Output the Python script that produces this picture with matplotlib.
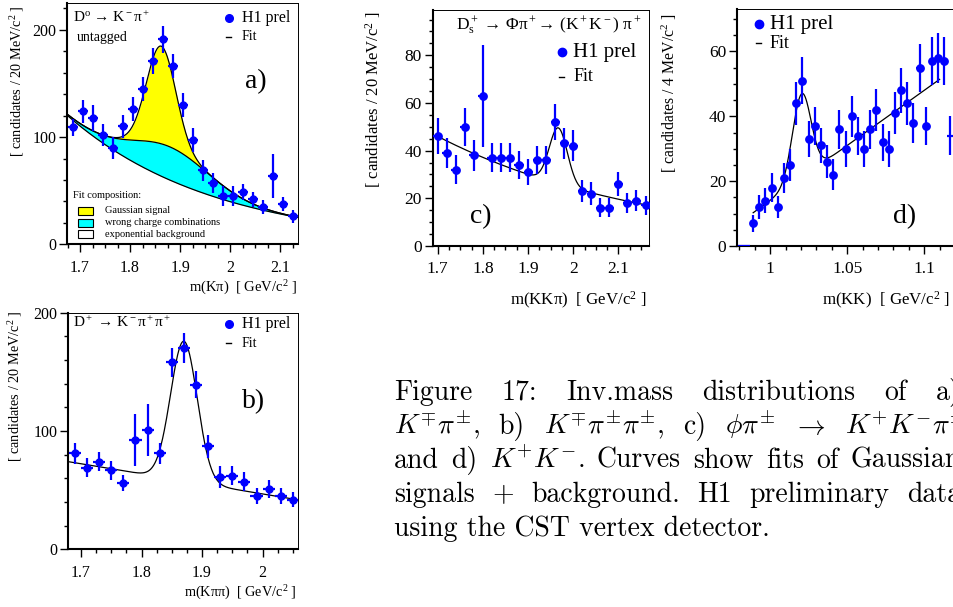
import matplotlib.pyplot as plt
import numpy as np
from matplotlib.lines import Line2D
from matplotlib.patches import Rectangle
from matplotlib.ticker import MultipleLocator, FuncFormatter

plt.rcParams['font.family'] = ['Liberation Serif', 'DejaVu Serif']
plt.rcParams['mathtext.fontset'] = 'custom'
plt.rcParams['mathtext.rm'] = 'Liberation Serif'
plt.rcParams['mathtext.it'] = 'Liberation Serif:italic'
plt.rcParams['mathtext.bf'] = 'Liberation Serif:bold'

W, H = 954, 607
BLUE = '#0000ff'

# a) D0 -> K pi, untagged
a_x = [1.685, 1.705, 1.725, 1.745, 1.765, 1.785, 1.805, 1.825, 1.845, 1.865, 1.885, 1.905,
       1.925, 1.945, 1.965, 1.985, 2.005, 2.025, 2.045, 2.065, 2.085, 2.105, 2.125]
a_y = [109, 124, 118, 102, 90, 110, 126, 145, 171, 191, 166, 130, 97, 69, 57, 45, 45, 49, 42, 35, 64, 38, 26]
a_err = [8, 11, 12, 10, 10, 11, 11, 11, 12.5, 12.5, 11, 11, 11, 10, 9.5, 9.5, 9, 7.5, 7, 6.5, 20.5, 6.5, 6]
# fit parts: exponential background, wrong charge combinations, gaussian signal
a_bg_norm, a_bg_slope = 120, 3.4
a_wc_amp, a_wc_mean, a_wc_sigma = 31, 1.88, 0.08
a_sig_amp, a_sig_mean, a_sig_sigma = 91, 1.862, 0.029

# b) D+ -> K pi pi
b_x = [1.69, 1.71, 1.73, 1.75, 1.77, 1.79, 1.81, 1.83, 1.85, 1.87, 1.89, 1.91, 1.93, 1.95,
       1.97, 1.99, 2.01, 2.03, 2.05]
b_y = [81, 69, 74, 67, 56, 92, 101, 81, 158, 170, 139, 87, 61, 62, 57, 45, 51, 45, 42]
b_err = [8.5, 8, 8, 8, 7, 22, 22, 8.5, 12, 12.5, 11.5, 9.5, 9, 8, 8, 7, 8, 7, 6.5]
b_bg_at, b_bg_slope = 74, 85
b_sig_amp, b_sig_mean, b_sig_sigma = 118, 1.87, 0.022

# c) Ds -> phi pi -> KK pi
c_x = [1.70, 1.72, 1.74, 1.76, 1.78, 1.80, 1.82, 1.84, 1.86, 1.88, 1.90, 1.92, 1.94, 1.96,
       1.98, 2.00, 2.02, 2.04, 2.06, 2.08, 2.10, 2.12, 2.14, 2.16]
c_y = [46, 39, 32, 50, 38, 63, 37, 37, 37, 34, 31, 36, 36, 52, 43, 42, 23, 22, 16, 16, 26, 18, 19, 17]
c_err = [7.5, 6.3, 6, 8, 6.5, 21.5, 6, 6, 6, 6, 5.5, 6, 6, 7.5, 6.5, 6.5, 4.7, 4.7, 4, 4, 5, 4.2, 4.3, 4.1]
c_bg_norm, c_bg_slope = 46, 2.13
c_sig_amp, c_sig_mean, c_sig_sigma = 23.5, 1.967, 0.02

# d) phi -> KK
d_x = [0.989, 0.993, 0.997, 1.001, 1.005, 1.009, 1.013, 1.017, 1.021, 1.025, 1.029, 1.033,
       1.037, 1.041, 1.045, 1.049, 1.053, 1.057, 1.061, 1.065, 1.069, 1.073, 1.077, 1.081,
       1.085, 1.089, 1.093, 1.097, 1.101, 1.105, 1.109, 1.113]
d_y = [7, 12, 14, 18, 12, 21, 25, 44, 51, 33, 37, 31, 26, 22, 36, 30, 40, 34, 30, 36, 42, 32,
       30, 41, 48, 44, 38, 55, 37, 57, 58, 57]
d_err = [2.6, 3.8, 3.8, 4.4, 3.5, 4.6, 5, 6.6, 7.2, 5.7, 6, 5.5, 5, 4.7, 6, 5.5, 6.3, 5.8, 5.5,
         6, 6.5, 5.7, 5.5, 6.4, 7, 6.6, 6.2, 7.4, 6, 7.5, 7.6, 7.5]
d_zero_x = [0.981, 0.985]
d_edge_x, d_edge_y, d_edge_err = [1.117], [34], [6]
d_bg_at, d_bg_slope = 14, 340
d_sig_amp, d_sig_mean, d_sig_sigma = 26, 1.0205, 0.006


def gauss(x, amp, mean, sigma):
    return amp * np.exp(-(x - mean) ** 2 / (2 * sigma ** 2))


fig = plt.figure(figsize=(W / 100, H / 100), dpi=100)


def add_axes(l, t, r, b):
    return fig.add_axes([l / W, 1 - b / H, (r - l) / W, (b - t) / H])


def ftext(x, y, s, **kw):
    return fig.text(x / W, 1 - y / H, s, **kw)


def style(ax, xlim, ylim, xmaj, xmin, ymaj, ymin, fs):
    ax.set_xlim(*xlim)
    ax.set_ylim(*ylim)
    ax.xaxis.set_major_locator(MultipleLocator(xmaj))
    ax.xaxis.set_minor_locator(MultipleLocator(xmin))
    ax.yaxis.set_major_locator(MultipleLocator(ymaj))
    ax.yaxis.set_minor_locator(MultipleLocator(ymin))
    fmt = FuncFormatter(lambda v, p: '%g' % round(v, 4))
    ax.xaxis.set_major_formatter(fmt)
    ax.yaxis.set_major_formatter(fmt)
    ax.tick_params(which='both', direction='out', top=False, right=False, labelsize=fs, width=1)
    ax.tick_params(which='major', length=6)
    ax.tick_params(which='minor', length=3)
    ax.tick_params(axis='x', pad=5)
    ax.tick_params(axis='y', pad=2)
    for s in ['left', 'bottom']:
        ax.spines[s].set_linewidth(1.5)
    for s in ['top', 'right']:
        ax.spines[s].set_linewidth(0.7)


def data(ax, x, y, err, hw, ms=5):
    ax.errorbar(x, y, yerr=err, xerr=hw, fmt='o', color=BLUE, ms=ms, elinewidth=1.6,
                capsize=0, zorder=5, clip_on=True)


def legend(xd, yd, xt, y2, fs1, fs2, ms=5.5):
    fig.add_artist(Line2D([xd / W], [1 - yd / H], marker='o', color=BLUE, ms=ms,
                          transform=fig.transFigure))
    ftext(xt, yd, 'H1 prel', fontsize=fs1, va='center', ha='left')
    fig.add_artist(Line2D([(xd - 2.5) / W, (xd + 2.5) / W], [1 - y2 / H] * 2, color='black',
                          lw=1, transform=fig.transFigure))
    ftext(xt, y2, 'Fit', fontsize=fs2, va='center', ha='left')


# ---------------- panel a
ax = add_axes(67.5, 3, 297.7, 244.3)
style(ax, (1.675, 2.135), (0, 225), 0.1, 0.025, 100, 20, 11.5)
xf = np.linspace(1.675, 2.135, 400)
bg = a_bg_norm * np.exp(-a_bg_slope * (xf - 1.675))
wc = bg + gauss(xf, a_wc_amp, a_wc_mean, a_wc_sigma)
tot = wc + gauss(xf, a_sig_amp, a_sig_mean, a_sig_sigma)
ax.fill_between(xf, bg, wc, color='#00ffff', lw=0)
ax.fill_between(xf, wc, tot, color='#ffff00', lw=0)
for curve in (bg, wc, tot):
    ax.plot(xf, curve, color='black', lw=0.9)
data(ax, a_x, a_y, a_err, 0.01)

ftext(72.7, 17.5, r'D$^{\rm o}$ → K$^{\rm -}$π$^{\rm +}$', fontsize=11, va='center')
ftext(77, 38, 'untagged', fontsize=10, va='center')
legend(229, 18, 241.7, 37, 11.5, 10)
ftext(245, 82, 'a)', fontsize=20, va='center')
ftext(73.3, 196, 'Fit composition:', fontsize=7.5, va='center')
for yc, col, lab in [(210.7, '#ffff00', 'Gaussian signal'),
                     (222.7, '#00ffff', 'wrong charge combinations'),
                     (234.3, 'white', 'exponential background')]:
    fig.add_artist(Rectangle((78.3 / W, 1 - (yc + 4) / H), 15 / W, 8 / H, facecolor=col,
                             edgecolor='black', lw=0.8, transform=fig.transFigure))
    ftext(105, yc, lab, fontsize=7.5, va='center')
ftext(17, 5, r'[ candidates / 20 MeV/c$^{\rm 2}$ ]', fontsize=10.3, rotation=90,
      ha='center', va='top')
ftext(296.7, 288, r'm(Kπ)  [ GeV/c$^{\rm 2}$ ]', fontsize=10.5, ha='right', va='center')

# ---------------- panel b
ax = add_axes(68.3, 312.7, 297.7, 549.3)
style(ax, (1.679, 2.058), (0, 200), 0.1, 0.025, 100, 20, 11.5)
xf = np.linspace(1.679, 2.058, 400)
fit = b_bg_at - b_bg_slope * (xf - 1.68) + gauss(xf, b_sig_amp, b_sig_mean, b_sig_sigma)
ax.plot(xf, fit, color='black', lw=0.9)
data(ax, b_x, b_y, b_err, 0.01)
ftext(72.7, 322.5, r'D$^{\rm +}$ → K$^{\rm -}$π$^{\rm +}$π$^{\rm +}$', fontsize=11, va='center')
legend(228.7, 324, 241.7, 343.3, 11.5, 10)
ftext(242, 401.7, 'b)', fontsize=20, va='center')
ftext(15, 310, r'[ candidates / 20 MeV/c$^{\rm 2}$ ]', fontsize=10.3, rotation=90,
      ha='center', va='top')
ftext(296.7, 593, r'm(Kππ)  [ GeV/c$^{\rm 2}$ ]', fontsize=10.3, ha='right', va='center')

# ---------------- panel c
ax = add_axes(432.7, 10, 648.7, 246)
style(ax, (1.689, 2.167), (0, 99), 0.1, 0.025, 20, 5, 12.5)
xf = np.linspace(1.695, 2.167, 400)
fit = c_bg_norm * np.exp(-c_bg_slope * (xf - 1.7)) + gauss(xf, c_sig_amp, c_sig_mean, c_sig_sigma)
ax.plot(xf, fit, color='black', lw=0.9)
data(ax, c_x, c_y, c_err, 0.01, ms=5.3)
ftext(641.7, 25, r'D$_{\rm s}^{\rm +}$ → Φπ$^{\rm +}$→ (K$^{\rm +}$K$^{\rm -}$) π$^{\rm +}$',
      fontsize=12.5, ha='right', va='center')
legend(561.7, 52.3, 573.3, 76.7, 15, 13, ms=6)
ftext(470, 216.7, 'c)', fontsize=20, va='center')
ftext(373, 12, r'[ candidates / 20 MeV/c$^{\rm 2}$ ]', fontsize=12, rotation=90,
      ha='center', va='top')
ftext(646.7, 300, r'm(KKπ)  [ GeV/c$^{\rm 2}$ ]', fontsize=12.2, ha='right', va='center')

# ---------------- panel d
ax = add_axes(737.3, 9.3, 952.7, 246)
style(ax, (0.9787, 1.1185), (0, 73), 0.05, 0.01, 20, 5, 12.5)
xf = np.linspace(0.989, 1.11, 400)
fit = d_bg_at + d_bg_slope * (xf - 1.0) + gauss(xf, d_sig_amp, d_sig_mean, d_sig_sigma)
ax.plot(xf, fit, color='black', lw=0.9)
data(ax, d_x, d_y, d_err, 0.002, ms=5.3)
ax.errorbar(d_zero_x, [0] * len(d_zero_x), xerr=0.002, fmt='none', ecolor=BLUE, elinewidth=1.6,
            zorder=5)
ax.errorbar(d_edge_x, d_edge_y, yerr=d_edge_err, xerr=0.002, fmt='none', ecolor=BLUE,
            elinewidth=1.6, zorder=5)
legend(759, 24, 770, 43.3, 15, 13, ms=6)
ftext(893, 216.7, 'd)', fontsize=20, va='center')
ftext(669, 13, r'[ candidates / 4 MeV/c$^{\rm 2}$ ]', fontsize=11.3, rotation=90,
      ha='center', va='top')
ftext(950, 300, r'm(KK)  [ GeV/c$^{\rm 2}$ ]', fontsize=12.2, ha='right', va='center')

# ---------------- caption (justified, clipped on the right like the page)
cap = dict(family='cmr10', size=20, math_fontfamily='cm')
renderer = fig.canvas.get_renderer()


def justify(words, y, x0=394, x1=961):
    texts = [ftext(0, y, w, ha='left', va='baseline', **cap) for w in words]
    widths = [t.get_window_extent(renderer).width for t in texts]
    gap = (x1 - x0 - sum(widths)) / (len(words) - 1)
    x = x0
    for t, w in zip(texts, widths):
        t.set_x(x / W)
        x += w + gap


justify(['Figure', '17:', 'Inv.mass', 'distributions', 'of', 'a)'], 400)
justify([r'$K^{\mp}\pi^{\pm}$,', 'b)', r'$K^{\mp}\pi^{\pm}\pi^{\pm}$,', 'c)', r'$\phi\pi^{\pm}$',
         r'$\rightarrow$', r'$K^{+}K^{-}\pi^{\pm}$'], 434, x1=966)
justify(['and', 'd)', r'$K^{+}K^{-}$.', 'Curves', 'show', 'fits', 'of', 'Gaussian'], 468)
justify(['signals', r'$+$', 'background.', 'H1', 'preliminary', 'data'], 502)
ftext(394, 536, 'using the CST vertex detector.', ha='left', va='baseline', **cap)

fig.savefig('out.png', dpi=100)
